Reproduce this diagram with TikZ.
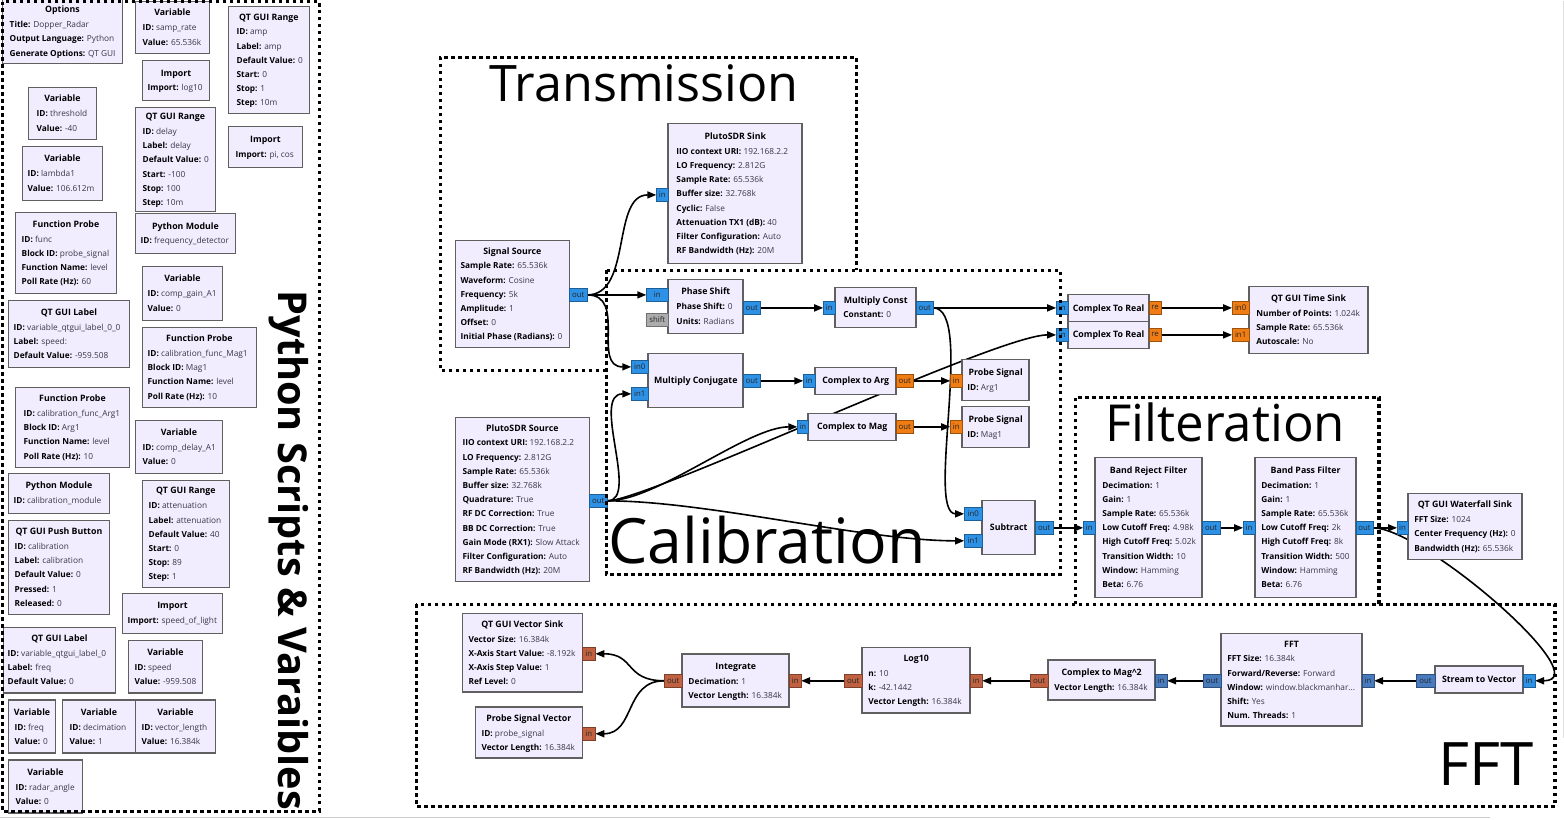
\documentclass[tikz,border=0pt]{standalone}
\usepackage{fontspec}
\setmainfont{Open Sans}
\usetikzlibrary{arrows.meta}
\pgfdeclarelayer{back}
\pgfdeclarelayer{bg}
\pgfsetlayers{back,bg,main}
\definecolor{blkfill}{RGB}{241,237,255}
\definecolor{blkdraw}{RGB}{96,96,96}
\definecolor{cpx}{RGB}{45,145,230}
\definecolor{flt}{RGB}{240,125,20}
\definecolor{fvec}{RGB}{192,98,66}
\definecolor{cvec}{RGB}{72,122,190}
\definecolor{msg}{RGB}{172,172,172}
\definecolor{valc}{RGB}{55,55,70}
\newcommand\kv[2]{\textbf{#1:} {\color{valc}#2}}
\tikzset{
 blk/.style={draw=blkdraw, fill=blkfill, line width=1.6pt, inner sep=0pt, outer sep=0pt, rectangle},
 ttl/.style={font=\bfseries\fontsize{8.8}{10}\selectfont, inner sep=0pt},
 txt/.style={font=\fontsize{8.3}{10}\selectfont, inner sep=0pt},
 port/.style={rectangle, line width=0.6pt, inner sep=0pt, outer sep=0pt, font=\fontsize{7.8}{8}\selectfont, text=black!85},
 conn/.style={draw, line width=1.6pt, -{Triangle[length=9pt,width=7pt]}},
 grp/.style={draw, line width=3.2pt, dash pattern=on 3.6pt off 3.4pt},
 big/.style={inner sep=0pt, anchor=base west},
}
% name, x1, y1, x2, y2, text x, title, lines
\newcommand\grblock[8]{%
 \node[blk, anchor=north west, minimum width={(#4-#2)*1pt}, minimum height={(#5-#3)*1pt}] (#1) at (#2,#3) {};
 \foreach \gbL [count=\gbC] in {#8} {\xdef\gbN{\gbC}}
 \pgfmathsetmacro\gbY{#3+((#5-#3)-15-14.2*(\gbN-1))/2}
 \node[ttl, anchor=base] (#1-t) at ({(#2+#4)/2},{\gbY+3.1}) {#7};
 \foreach \gbL [count=\gbC] in {#8} {\node[txt, anchor=base west] (#1-\gbC) at (#6,{\gbY+3+15+14.2*(\gbC-1)}) {\gbL};}
}
\newcommand\grsingle[6]{%
 \node[blk, anchor=north west, minimum width={(#4-#2)*1pt}, minimum height={(#5-#3)*1pt}] (#1) at (#2,#3) {};
 \node[ttl, anchor=base] (#1-t) at ({(#2+#4)/2},{(#3+#5)/2+3.1}) {#6};
}
\newcommand\grport[7]{%
 \node[port, fill=#6, draw=#6!65!black, anchor=north west, minimum width={(#4-#2)*1pt}, minimum height={(#5-#3)*1pt}] (#1) at (#2,#3) {#7};
}
\begin{document}
\begin{tikzpicture}[x=1pt,y=-1pt]
\begin{pgfonlayer}{back}
\fill[white] (0,0) rectangle (1564,819);
\draw[black!20, line width=1pt] (0,817) -- (1490,817);
\draw[black!12, line width=1pt] (1563,0) -- (1563,738);
\end{pgfonlayer}
\useasboundingbox (0,0) rectangle (1564,819);

% ---------- left column ----------
\grblock{opt}{2}{-1}{122}{63}{9}{Options}{\kv{Title}{Dopper\_Radar},\kv{Output Language}{Python},\kv{Generate Options}{QT GUI}}
\grblock{vsr}{135}{1}{209}{53}{142}{Variable}{\kv{ID}{samp\_rate},\kv{Value}{65.536k}}
\grblock{ramp}{228}{6}{309}{113}{236}{QT GUI Range}{\kv{ID}{amp},\kv{Label}{amp},\kv{Default Value}{0},\kv{Start}{0},\kv{Stop}{1},\kv{Step}{10m}}
\grblock{ilog}{142}{60}{209}{100}{147}{Import}{\kv{Import}{log10}}
\grblock{vth}{28}{87}{96}{139}{36}{Variable}{\kv{ID}{threshold},\kv{Value}{-40}}
\grblock{rdel}{135}{107}{215}{211}{142}{QT GUI Range}{\kv{ID}{delay},\kv{Label}{delay},\kv{Default Value}{0},\kv{Start}{-100},\kv{Stop}{100},\kv{Step}{10m}}
\grblock{ipi}{228}{126}{302}{167}{235}{Import}{\kv{Import}{pi, cos}}
\grblock{vlam}{22}{146}{102}{200}{27}{Variable}{\kv{ID}{lambda1},\kv{Value}{106.612m}}
\grblock{fpf}{15}{212}{116}{293}{21}{Function Probe}{\kv{ID}{func},\kv{Block ID}{probe\_signal},\kv{Function Name}{level},\kv{Poll Rate (Hz)}{60}}
\grblock{pmf}{135}{213}{235}{253}{140}{Python Module}{\kv{ID}{frequency\_detector}}
\grblock{vcg}{142}{266}{222}{320}{147}{Variable}{\kv{ID}{comp\_gain\_A1},\kv{Value}{0}}
\grblock{qlb}{8}{300}{129}{367}{13}{QT GUI Label}{\kv{ID}{variable\_qtgui\_label\_0\_0},\kv{Label}{speed:},\kv{Default Value}{-959.508}}
\grblock{fpm}{142}{327}{256}{407}{147}{Function Probe}{\kv{ID}{calibration\_func\_Mag1},\kv{Block ID}{Mag1},\kv{Function Name}{level},\kv{Poll Rate (Hz)}{10}}
\grblock{fpa}{15}{387}{129}{467}{23}{Function Probe}{\kv{ID}{calibration\_func\_Arg1},\kv{Block ID}{Arg1},\kv{Function Name}{level},\kv{Poll Rate (Hz)}{10}}
\grblock{vcd}{135}{420}{222}{473}{142}{Variable}{\kv{ID}{comp\_delay\_A1},\kv{Value}{0}}
\grblock{pmc}{8}{473}{109}{513}{13}{Python Module}{\kv{ID}{calibration\_module}}
\grblock{ratt}{142}{480}{229}{587}{148}{QT GUI Range}{\kv{ID}{attenuation},\kv{Label}{attenuation},\kv{Default Value}{40},\kv{Start}{0},\kv{Stop}{89},\kv{Step}{1}}
\grblock{pbt}{8}{520}{109}{614}{14}{QT GUI Push Button}{\kv{ID}{calibration},\kv{Label}{calibration},\kv{Default Value}{0},\kv{Pressed}{1},\kv{Released}{0}}
\grblock{isol}{122}{593}{222}{633}{127}{Import}{\kv{Import}{speed\_of\_light}}
\grblock{qla}{3}{627}{115}{693}{7}{QT GUI Label}{\kv{ID}{variable\_qtgui\_label\_0},\kv{Label}{freq},\kv{Default Value}{0}}
\grblock{vsp}{128}{640}{202}{693}{134}{Variable}{\kv{ID}{speed},\kv{Value}{-959.508}}
\grblock{vfr}{8}{700}{55}{753}{14}{Variable}{\kv{ID}{freq},\kv{Value}{0}}
\grblock{vdec}{62}{700}{135}{753}{69}{Variable}{\kv{ID}{decimation},\kv{Value}{1}}
\grblock{vvl}{135}{700}{215}{753}{141}{Variable}{\kv{ID}{vector\_length},\kv{Value}{16.384k}}
\grblock{vra}{8}{760}{82}{813}{15}{Variable}{\kv{ID}{radar\_angle},\kv{Value}{0}}

% ---------- flowgraph ----------
\grblock{ss}{455}{240}{569}{347}{460}{Signal Source}{\kv{Sample Rate}{65.536k},\kv{Waveform}{Cosine},\kv{Frequency}{5k},\kv{Amplitude}{1},\kv{Offset}{0},\kv{Initial Phase (Radians)}{0}}
\grblock{psk}{668}{123}{802}{263}{676}{PlutoSDR Sink}{\kv{IIO context URI}{192.168.2.2},\kv{LO Frequency}{2.812G},\kv{Sample Rate}{65.536k},\kv{Buffer size}{32.768k},\kv{Cyclic}{False},\kv{Attenuation TX1 (dB)}{40},\kv{Filter Configuration}{Auto},\kv{RF Bandwidth (Hz)}{20M}}
\grblock{phs}{668}{279}{743}{333}{676}{Phase Shift}{\kv{Phase Shift}{0},\kv{Units}{Radians}}
\grblock{mc}{835}{287}{916}{327}{843}{Multiply Const}{\kv{Constant}{0}}
\grsingle{mcj}{648}{353}{743}{407}{Multiply Conjugate}
\grsingle{c2a}{815}{367}{896}{394}{Complex to Arg}
\grblock{pa}{962}{359}{1029}{400}{967}{Probe Signal}{\kv{ID}{Arg1}}
\grsingle{c2m}{808}{413}{896}{440}{Complex to Mag}
\grblock{pm}{962}{406}{1029}{447}{967}{Probe Signal}{\kv{ID}{Mag1}}
\grsingle{sub}{982}{500}{1035}{554}{Subtract}
\grblock{psrc}{455}{417}{589}{581}{462}{PlutoSDR Source}{\kv{IIO context URI}{192.168.2.2},\kv{LO Frequency}{2.812G},\kv{Sample Rate}{65.536k},\kv{Buffer size}{32.768k},\kv{Quadrature}{True},\kv{RF DC Correction}{True},\kv{BB DC Correction}{True},\kv{Gain Mode (RX1)}{Slow Attack},\kv{Filter Configuration}{Auto},\kv{RF Bandwidth (Hz)}{20M}}
\grsingle{cra}{1068}{294}{1149}{321}{Complex To Real}
\grsingle{crb}{1068}{321}{1149}{348}{Complex To Real}
\grblock{ts}{1249}{286}{1368}{353}{1256}{QT GUI Time Sink}{\kv{Number of Points}{1.024k},\kv{Sample Rate}{65.536k},\kv{Autoscale}{No}}
\grblock{brf}{1095}{457}{1202}{597}{1102}{Band Reject Filter}{\kv{Decimation}{1},\kv{Gain}{1},\kv{Sample Rate}{65.536k},\kv{Low Cutoff Freq}{4.98k},\kv{High Cutoff Freq}{5.02k},\kv{Transition Width}{10},\kv{Window}{Hamming},\kv{Beta}{6.76}}
\grblock{bpf}{1255}{457}{1356}{597}{1261}{Band Pass Filter}{\kv{Decimation}{1},\kv{Gain}{1},\kv{Sample Rate}{65.536k},\kv{Low Cutoff Freq}{2k},\kv{High Cutoff Freq}{8k},\kv{Transition Width}{500},\kv{Window}{Hamming},\kv{Beta}{6.76}}
\grblock{wf}{1408}{493}{1522}{559}{1414}{QT GUI Waterfall Sink}{\kv{FFT Size}{1024},\kv{Center Frequency (Hz)}{0},\kv{Bandwidth (Hz)}{65.536k}}
\grsingle{s2v}{1435}{666}{1523}{693}{Stream to Vector}
\grblock{fft}{1221}{633}{1362}{726}{1227}{FFT}{\kv{FFT Size}{16.384k},\kv{Forward/Reverse}{Forward},\kv{Window}{window.blackmanhar...},\kv{Shift}{Yes},\kv{Num. Threads}{1}}
\grblock{cm2}{1048}{660}{1155}{700}{1054}{Complex to Mag\textasciicircum 2}{\kv{Vector Length}{16.384k}}
\grblock{lg}{862}{647}{970}{713}{868}{Log10}{\kv{n}{10},\kv{k}{-42.1442},\kv{Vector Length}{16.384k}}
\grblock{itg}{682}{654}{789}{707}{688}{Integrate}{\kv{Decimation}{1},\kv{Vector Length}{16.384k}}
\grblock{vs}{462}{613}{582}{692}{468}{QT GUI Vector Sink}{\kv{Vector Size}{16.384k},\kv{X-Axis Start Value}{-8.192k},\kv{X-Axis Step Value}{1},\kv{Ref Level}{0}}
\grblock{psv}{475}{707}{582}{758}{481}{Probe Signal Vector}{\kv{ID}{probe\_signal},\kv{Vector Length}{16.384k}}

% ---------- ports ----------
\grport{ss-o}{569}{288}{587}{301}{cpx}{out}
\grport{psk-i}{656}{188}{668}{201}{cpx}{in}
\grport{phs-i}{646}{288}{668}{301}{cpx}{in}
\grport{phs-s}{646}{313}{668}{326}{msg}{shift}
\grport{phs-o}{743}{301}{760}{314}{cpx}{out}
\grport{mc-i}{823}{301}{835}{314}{cpx}{in}
\grport{mc-o}{916}{301}{933}{314}{cpx}{out}
\grport{mcj-i0}{631}{360}{648}{373}{cpx}{in0}
\grport{mcj-i1}{631}{387}{648}{400}{cpx}{in1}
\grport{mcj-o}{743}{374}{760}{387}{cpx}{out}
\grport{c2a-i}{803}{374}{815}{387}{cpx}{in}
\grport{c2a-o}{896}{374}{913}{387}{flt}{out}
\grport{pa-i}{950}{374}{962}{387}{flt}{in}
\grport{c2m-i}{797}{420}{808}{433}{cpx}{in}
\grport{c2m-o}{896}{420}{913}{433}{flt}{out}
\grport{pm-i}{950}{420}{962}{433}{flt}{in}
\grport{sub-i0}{964}{507}{982}{520}{cpx}{in0}
\grport{sub-i1}{964}{534}{982}{547}{cpx}{in1}
\grport{sub-o}{1035}{521}{1053}{534}{cpx}{out}
\grport{psrc-o}{589}{494}{607}{507}{cpx}{out}
\grport{cra-i}{1056}{301}{1068}{314}{cpx}{in}
\grport{cra-o}{1149}{301}{1161}{314}{flt}{re}
\grport{crb-i}{1056}{328}{1068}{341}{cpx}{in}
\grport{crb-o}{1149}{328}{1161}{341}{flt}{re}
\grport{ts-i0}{1232}{301}{1249}{314}{flt}{in0}
\grport{ts-i1}{1232}{328}{1249}{341}{flt}{in1}
\grport{brf-i}{1083}{521}{1095}{534}{cpx}{in}
\grport{brf-o}{1202}{521}{1220}{534}{cpx}{out}
\grport{bpf-i}{1243}{521}{1255}{534}{cpx}{in}
\grport{bpf-o}{1356}{521}{1373}{534}{cpx}{out}
\grport{wf-i}{1397}{521}{1408}{534}{cpx}{in}
\grport{s2v-i}{1523}{674}{1535}{687}{cpx}{in}
\grport{s2v-o}{1416}{674}{1435}{687}{cvec}{out}
\grport{fft-i}{1362}{674}{1374}{687}{cvec}{in}
\grport{fft-o}{1203}{674}{1221}{687}{cvec}{out}
\grport{cm2-i}{1155}{674}{1167}{687}{cvec}{in}
\grport{cm2-o}{1030}{674}{1048}{687}{fvec}{out}
\grport{lg-i}{970}{674}{982}{687}{fvec}{in}
\grport{lg-o}{844}{674}{862}{687}{fvec}{out}
\grport{itg-i}{789}{674}{801}{687}{fvec}{in}
\grport{itg-o}{664}{674}{682}{687}{fvec}{out}
\grport{vs-i}{582}{647}{595}{660}{fvec}{in}
\grport{psv-i}{582}{727}{595}{740}{fvec}{in}

% ---------- connections ----------
\begin{pgfonlayer}{bg}
\draw[conn] (ss-o.east) .. controls +(45,0) and +(-45,0) .. (psk-i.west);
\draw[conn] (ss-o.east) -- (phs-i.west);
\draw[conn] (ss-o.east) .. controls +(40,0) and +(-40,0) .. (mcj-i0.west);
\draw[conn] (phs-o.east) -- (mc-i.west);
\draw[conn] (mc-o.east) -- (cra-i.west);
\draw[conn] (mc-o.east) .. controls +(42,0) and +(-39,0) .. (sub-i0.west);
\draw[conn] (mcj-o.east) -- (c2a-i.west);
\draw[conn] (c2a-o.east) -- (pa-i.west);
\draw[conn] (c2m-o.east) -- (pm-i.west);
\draw[conn] (psrc-o.east) .. controls +(33,0) and +(-41,0) .. (mcj-i1.west);
\draw[conn] (psrc-o.east) .. controls +(50,0) and +(-50,0) .. (c2m-i.west);
\draw[conn] (psrc-o.east) .. controls +(40,0) and +(-60,0) .. (crb-i.west);
\draw[conn] (psrc-o.east) .. controls +(100,0) and +(-100,0) .. (sub-i1.west);
\draw[conn] (cra-o.east) -- (ts-i0.west);
\draw[conn] (crb-o.east) -- (ts-i1.west);
\draw[conn] (sub-o.east) -- (brf-i.west);
\draw[conn] (brf-o.east) -- (bpf-i.west);
\draw[conn] (bpf-o.east) -- (wf-i.west);
\draw[conn] (bpf-o.east) .. controls +(50,0) and +(65,0) .. (s2v-i.east);
\draw[conn] (s2v-o.west) -- (fft-i.east);
\draw[conn] (fft-o.west) -- (cm2-i.east);
\draw[conn] (cm2-o.west) -- (lg-i.east);
\draw[conn] (lg-o.west) -- (itg-i.east);
\draw[conn] (itg-o.west) .. controls +(-40,0) and +(40,0) .. (vs-i.east);
\draw[conn] (itg-o.west) .. controls +(-40,0) and +(40,0) .. (psv-i.east);
\end{pgfonlayer}

% ---------- groups ----------
\draw[grp] (2,1) rectangle (319,811);
\draw[grp] (606,370) -- (440,370) -- (440,57) -- (856,57) -- (856,270);
\draw[grp] (606,270) rectangle (1060,574);
\draw[grp] (1075,604) -- (1075,397) -- (1379,397) -- (1379,604);
\draw[grp] (416,604) rectangle (1555,806);

\node[big, font=\fontsize{50.3}{60}\selectfont] (lt) at (489,101) {Transmission};
\node[big, font=\fontsize{62.5}{70}\selectfont] (lc) at (608,563) {Calibration};
\node[big, font=\fontsize{51}{60}\selectfont] (lf) at (1105,441) {Filteration};
\node[big, font=\fontsize{60}{70}\selectfont] (lfft) at (1438,785) {FFT};
\node[big, rotate=-90, font=\bfseries\fontsize{39.7}{44}\selectfont] (lpy) at (278,290) {Python Scripts \& Varaibles};
\end{tikzpicture}
\end{document}
